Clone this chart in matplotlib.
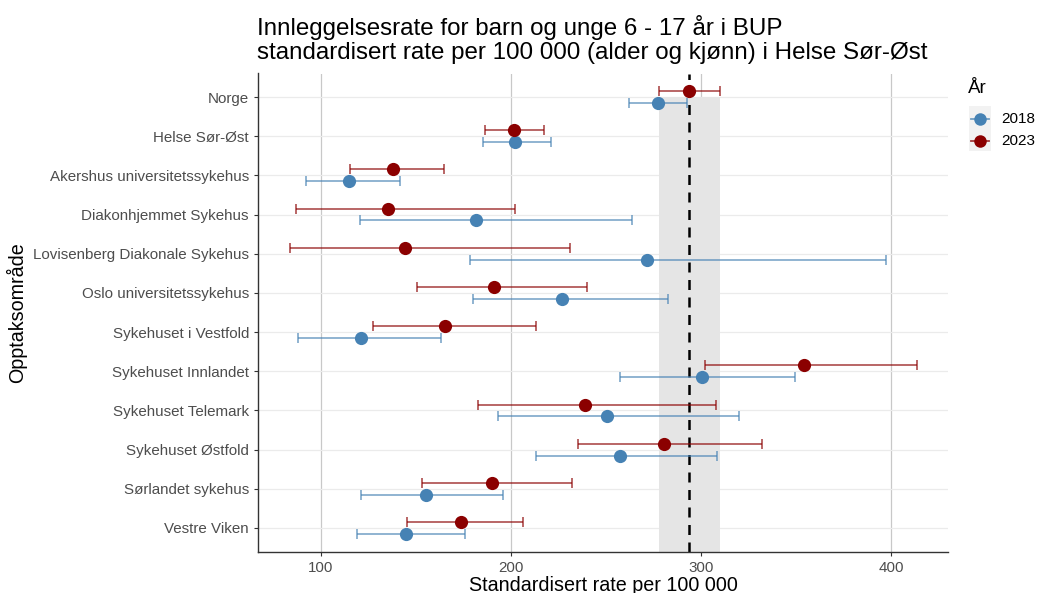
import matplotlib
matplotlib.use("Agg")
import matplotlib.pyplot as plt
from matplotlib.lines import Line2D
from matplotlib.patches import Rectangle
import numpy as np

plt.rcParams['font.family'] = ['Liberation Sans', 'DejaVu Sans']

areas = ["Norge", "Helse Sør-Øst", "Akershus universitetssykehus", "Diakonhjemmet Sykehus",
         "Lovisenberg Diakonale Sykehus", "Oslo universitetssykehus", "Sykehuset i Vestfold",
         "Sykehuset Innlandet", "Sykehuset Telemark", "Sykehuset Østfold",
         "Sørlandet sykehus", "Vestre Viken"]

rate_2018 = [277.2, 202.4, 114.8, 181.8, 271.8, 227.0, 121.3, 300.6, 250.7, 257.5, 155.5, 145.0]
lo_2018   = [262.4, 185.5,  92.3, 120.6, 178.3, 180.1,  87.8, 257.5, 193.0, 213.2, 121.1, 119.0]
hi_2018   = [292.9, 220.9, 141.9, 263.6, 397.4, 282.8, 163.5, 349.4, 320.3, 308.3, 195.9, 175.9]

rate_2023 = [293.5, 201.5, 138.2, 135.6, 144.1, 191.4, 165.6, 354.3, 239.0, 280.5, 190.0, 173.6]
lo_2023   = [278.0, 186.2, 115.2,  87.1,  83.6, 150.6, 127.4, 302.3, 182.5, 235.2, 153.4, 145.5]
hi_2023   = [309.8, 217.2, 164.7, 202.4, 231.2, 240.1, 213.0, 413.8, 307.9, 332.0, 232.4, 206.4]

years = ["2018", "2023"]
colors = {"2018": "#4682B4", "2023": "#8B0000"}

W, H = 1037, 593
fig = plt.figure(figsize=(W / 100, H / 100), dpi=100)
ax = fig.add_axes([258 / W, 1 - 551.5 / H, (948 - 258) / W, (551.5 - 73.5) / H])

n = len(areas)
ypos = np.arange(n, 0, -1)  # Norge at top
offs = {"2018": -0.15, "2023": 0.15}
data = {"2018": (rate_2018, lo_2018, hi_2018), "2023": (rate_2023, lo_2023, hi_2023)}

# Reference band and line from Norge 2023
ax.add_patch(Rectangle((lo_2023[0], -10), hi_2023[0] - lo_2023[0], ypos[0] + 10,
                       facecolor="#e5e5e5", edgecolor="none", zorder=1))
ax.axvline(rate_2023[0], color="black", linestyle=(0, (4, 3)), linewidth=1.8, zorder=2)

for yr in years:
    r, lo, hi = data[yr]
    r = np.array(r); lo = np.array(lo); hi = np.array(hi)
    y = ypos + offs[yr]
    ax.errorbar(r, y, xerr=[r - lo, hi - r], fmt="none", ecolor=colors[yr], alpha=0.65,
                elinewidth=1.3, capsize=3.5, capthick=1.3, zorder=3)
    ax.plot(r, y, "o", color=colors[yr], markersize=9.5, markeredgewidth=0, zorder=4)

ax.set_xlim(67, 430)
ax.set_ylim(0.4, n + 0.6)
ax.set_yticks(ypos)
ax.set_yticklabels(areas)
ax.set_xticks([100, 200, 300, 400])

ax.set_axisbelow(True)
ax.grid(axis="x", color="#c8c8c8", linewidth=0.9)
ax.grid(axis="y", color="#ebebeb", linewidth=0.9)
for s in ["top", "right"]:
    ax.spines[s].set_visible(False)
for s in ["left", "bottom"]:
    ax.spines[s].set_color("#333333")
    ax.spines[s].set_linewidth(1.0)
ax.tick_params(axis="both", colors="#333333", labelcolor="#4d4d4d", labelsize=10.9, length=3, width=0.8)

ax.set_xlabel("Standardisert rate per 100 000", fontsize=14.2, labelpad=1)
ax.set_ylabel("Opptaksområde", fontsize=14.2, labelpad=4)

fig.text(257 / W, 1 - 28 / H, "Innleggelsesrate for barn og unge 6 - 17 år i BUP",
         fontsize=17.4, ha="left", va="center")
fig.text(257 / W, 1 - 53 / H, "standardisert rate per 100 000 (alder og kjønn) i Helse Sør-Øst",
         fontsize=17.4, ha="left", va="center")

# Legend (drawn manually to match the reference placement)
fig.patches.append(Rectangle((969 / W, 1 - 151 / H), 22 / W, 45 / H, transform=fig.transFigure,
                             facecolor="#f2f2f2", edgecolor="none", figure=fig))
fig.text(968 / W, 1 - 88 / H, "År", fontsize=13.5, ha="left", va="center")
for yr, yy in zip(years, [119, 141]):
    fig.lines.append(Line2D([971 / W, 989 / W], [1 - yy / H, 1 - yy / H], color=colors[yr],
                            linewidth=1.3, alpha=0.75, transform=fig.transFigure, figure=fig))
    fig.lines.append(Line2D([980 / W], [1 - yy / H], color=colors[yr], marker="o", markersize=9,
                            markeredgewidth=0, linestyle="none", transform=fig.transFigure, figure=fig))
    fig.text(1001 / W, 1 - yy / H, yr, fontsize=11, ha="left", va="center")

fig.savefig("out.png", dpi=100)
